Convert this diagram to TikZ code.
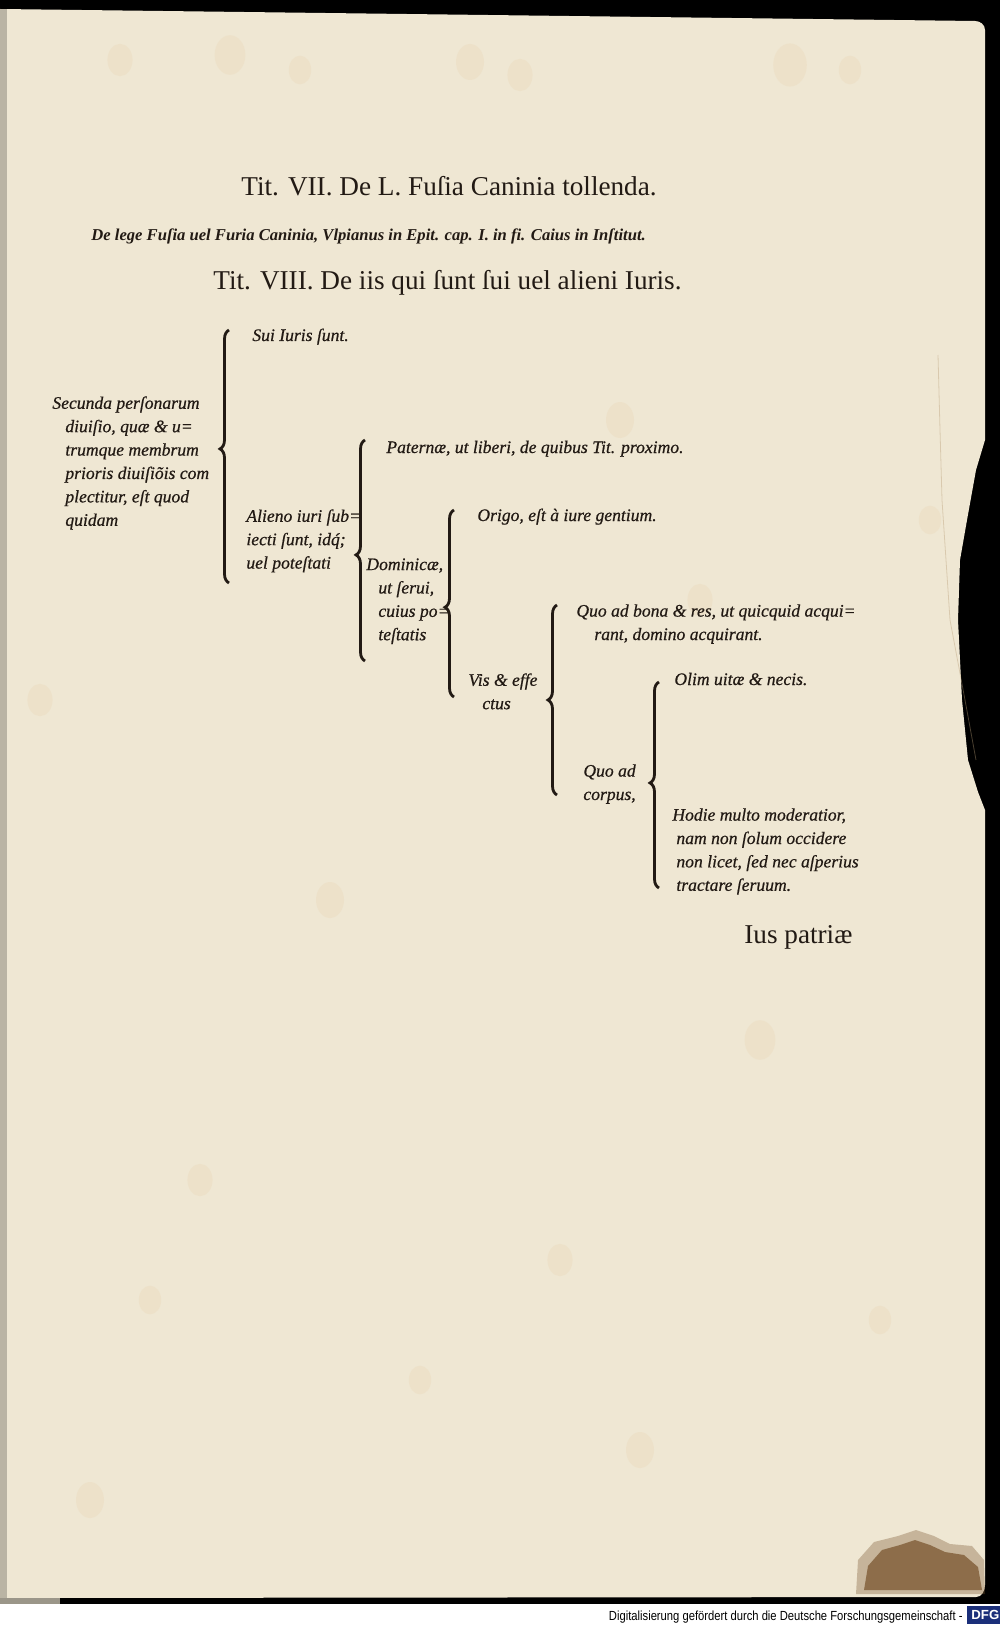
\documentclass[tikz,border=0pt]{standalone}
\usepackage{fontspec}
\setmainfont{Liberation Serif}
\newfontfamily\bookfont[FakeBold=0.6]{Liberation Serif}
\newfontfamily\footfont{Liberation Sans}
\usetikzlibrary{decorations.pathreplacing}

\definecolor{paper}{HTML}{EFE7D3}
\definecolor{ink}{HTML}{221A14}
\definecolor{spot}{HTML}{E6C595}
\definecolor{stain}{HTML}{7A5630}
\definecolor{dfgblue}{HTML}{1B2F7A}

\tikzset{
  title/.style={anchor=base west,inner sep=0,text=ink,font=\fontsize{13.6}{16}\selectfont},
  entry/.style={anchor=base west,inner sep=0,text=ink,font=\bookfont\fontsize{8.8}{11.7}\selectfont\itshape},
  block/.style={anchor=north west,inner sep=0,align=left,text=ink,font=\bookfont\fontsize{8.8}{11.7}\selectfont\itshape},
  brk/.style={draw=ink,line width=1.4pt,decorate,decoration={brace,amplitude=4.5pt,aspect=#1}},
}

\begin{document}
\begin{tikzpicture}[x=0.5pt,y=-0.5pt]

% scan background
\useasboundingbox (0,0) rectangle (1000,1626);
\fill [black] (0,0) rectangle (1000,1604);
\fill [white] (0,1604) rectangle (1000,1626);
\fill [paper]
  (0,9) -- (975,21) to[out=0,in=90] (985,30) -- (985,440)
  -- (976,470) -- (967,520) -- (960,560) -- (958,620) -- (962,700)
  -- (968,760) -- (978,792) -- (985,810) -- (985,1585)
  to[out=-90,in=0] (976,1597) -- (0,1598) -- cycle;
\fill [black!22!paper] (0,9) rectangle (7,1598);
\fill [black!35!paper] (0,1598) rectangle (60,1604);
\foreach \px/\py/\pr in {120/60/9,230/55/11,300/70/8,470/62/10,520/75/9,790/65/12,
    850/70/8,620/420/10,700/600/9,930/520/8,200/1180/9,90/1500/10,420/1380/8,
    760/1040/11,560/1260/9,880/1320/8,40/700/9,330/900/10,150/1300/8,640/1450/10}
  \fill [spot,opacity=.15] (\px,\py) ellipse ({\pr*1.4} and {\pr*1.8});
\fill [stain,opacity=.35]
  (856,1594) -- (858,1560) -- (874,1542) -- (898,1536) -- (916,1530)
  -- (934,1536) -- (950,1544) -- (972,1546) -- (984,1560) -- (985,1594) -- cycle;
\fill [stain,opacity=.75]
  (864,1590) -- (868,1566) -- (882,1550) -- (900,1545) -- (915,1540)
  -- (930,1545) -- (945,1552) -- (964,1555) -- (978,1567) -- (982,1590) -- cycle;
\draw [spot!80!black,opacity=.4,thin]
  (938,355) -- (940,430) -- (942,500) -- (950,620) -- (965,700) -- (976,760);

% headings
\node [title] (t7) at (241,196) {Tit. VII. De L. Fuſia Caninia tollenda.};
\node [entry,font=\fontsize{8.3}{10}\selectfont\itshape\bfseries] (lex) at (91,241)
  {De lege Fuſia uel Furia Caninia, Vlpianus in Epit. cap. I. in fi. Caius in Inſtitut.};
\node [title] (t8) at (213,290) {Tit. VIII. De iis qui ſunt ſui uel alieni Iuris.};

% table
\node [block] (secunda) at (65,396)
  {\hspace*{-6.5pt}Secunda perſonarum\\ diuiſio, quæ \& u=\\ trumque membrum\\
   prioris diuiſiõis com\\ plectitur, eſt quod\\ quidam};
\node [entry] (sui) at (252,341) {Sui Iuris ſunt.};
\node [block] (alieno) at (246,509) {Alieno iuri ſub=\\ iecti ſunt, id\'{q};\\ uel poteſtati};
\node [entry] (paternae) at (386,453) {Paternæ, ut liberi, de quibus Tit. proximo.};
\node [block] (dominicae) at (378,558) {\hspace*{-6pt}Dominicæ,\\ ut ſerui,\\ cuius po=\\ teſtatis};
\node [entry] (origo) at (477,521) {Origo, eſt à iure gentium.};
\node [block] (vis) at (482,673) {\hspace*{-7pt}Vis \& effe\\ ctus};
\node [block] (bona) at (594,604) {\hspace*{-9pt}Quo ad bona \& res, ut quicquid acqui=\\ rant, domino acquirant.};
\node [block] (corpus) at (583,764) {Quo ad\\ corpus,};
\node [entry] (olim) at (674,685) {Olim uitæ \& necis.};
\node [block] (hodie) at (676,808)
  {\hspace*{-2pt}Hodie multo moderatior,\\ nam non ſolum occidere\\ non licet, ſed nec aſperius\\ tractare ſeruum.};
\node [title] (ius) at (744,943) {Ius patriæ};

% braces
\coordinate (b1s) at (229,583); \coordinate (b1e) at (229,330);
\coordinate (b2s) at (365,661); \coordinate (b2e) at (365,440);
\coordinate (b3s) at (454,697); \coordinate (b3e) at (454,510);
\coordinate (b4s) at (557,795); \coordinate (b4e) at (557,605);
\coordinate (b5s) at (659,888); \coordinate (b5e) at (659,682);
\draw [brk=.53] (b1s) -- (b1e);
\draw [brk=.48] (b2s) -- (b2e);
\draw [brk=.48] (b3s) -- (b3e);
\draw [brk=.50] (b4s) -- (b4e);
\draw [brk=.51] (b5s) -- (b5e);

% footer
\node [anchor=base east,inner sep=0,font=\footfont\fontsize{6.6}{8}\selectfont] (dfgtext) at (963,1620)
  {\scalebox{0.85}[1]{Digitalisierung gefördert durch die Deutsche Forschungsgemeinschaft -}};
\node [anchor=west,inner sep=2pt,fill=dfgblue,text=white,font=\footfont\bfseries\fontsize{6.6}{8}\selectfont] (dfg)
  at (967,1615) {DFG};

\end{tikzpicture}
\end{document}
